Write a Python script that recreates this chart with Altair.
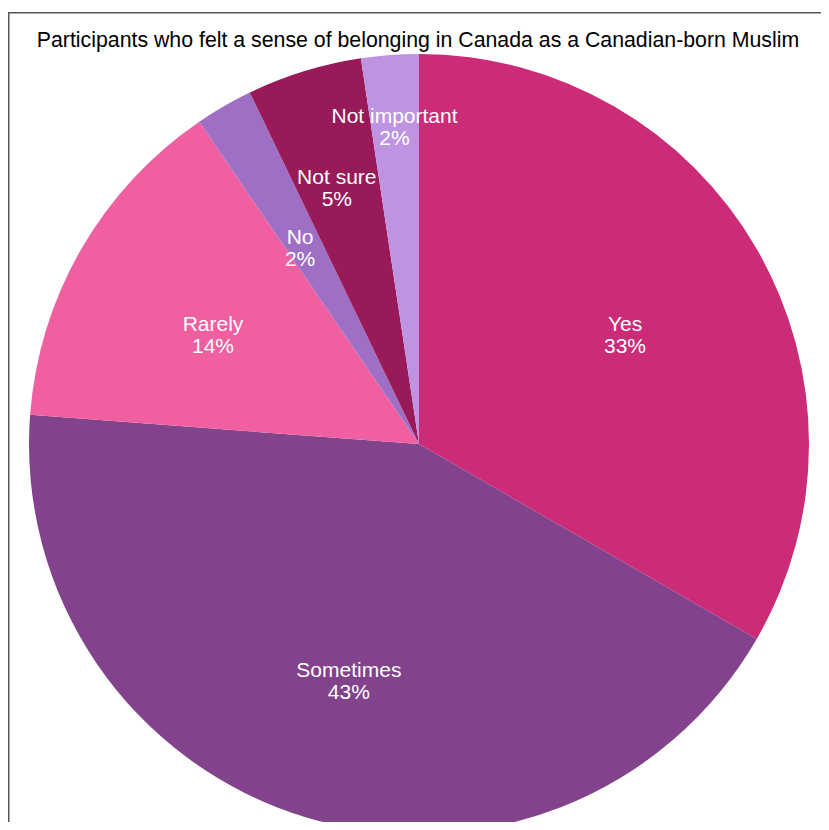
import altair as alt
import pandas as pd

TITLE = "Participants who felt a sense of belonging in Canada as a Canadian-born Muslim"
categories = ["Yes", "Sometimes", "Rarely", "No", "Not sure", "Not important"]
counts = [14, 18, 6, 1, 2, 1]
pct_labels = ["33%", "43%", "14%", "2%", "5%", "2%"]
colors = ["#CC2B78", "#82438C", "#F060A0", "#9F6FC6", "#981A58", "#BE94E2"]

df = pd.DataFrame({
    "category": categories,
    "count": counts,
    "pct": pct_labels,
    "order": list(range(len(categories))),
})
df["label"] = df["category"] + "\n" + df["pct"]

W, H = 813, 810
CX, CY, R = 411, 432, 390

pie = alt.Chart(df).mark_arc(outerRadius=R).encode(
    theta=alt.Theta("count:Q", stack=True),
    order=alt.Order("order:Q"),
    x=alt.value(CX),
    y=alt.value(CY),
    color=alt.Color("category:N", scale=alt.Scale(domain=categories, range=colors), legend=None),
)

text_style = dict(font="Liberation Sans", fontSize=21, color="white", lineBreak="\n",
                  baseline="middle", align="center", lineHeight=22)


def label_layer(cats, rfrac):
    return alt.Chart(df).transform_window(
        cum="sum(count)", sort=[alt.SortField("order")]
    ).transform_calculate(
        mid="datum.cum - datum.count / 2"
    ).transform_filter(
        alt.FieldOneOfPredicate(field="category", oneOf=cats)
    ).mark_text(radius=rfrac * R, **text_style).encode(
        theta=alt.Theta("mid:Q", stack=None),
        x=alt.value(CX),
        y=alt.value(CY),
        text="label:N",
    )


labels_main = label_layer(["Yes", "Sometimes", "Rarely", "No"], 0.61)
labels_sure = label_layer(["Not sure"], 0.715)
labels_imp = label_layer(["Not important"], 0.84)

one = pd.DataFrame({"title": [TITLE]})

title_text = alt.Chart(one).mark_text(
    font="Liberation Sans", fontSize=21.3, color="black", align="center", baseline="alphabetic"
).encode(x=alt.value(410), y=alt.value(35), text="title:N")

frame_left = alt.Chart(one).mark_rule(color="#555555", strokeWidth=1.5).encode(
    x=alt.value(0.75), y=alt.value(0), y2=alt.value(H)
)
frame_top = alt.Chart(one).mark_rule(color="#555555", strokeWidth=1.5).encode(
    x=alt.value(0), x2=alt.value(W), y=alt.value(0.75)
)

chart = alt.layer(pie, labels_main, labels_sure, labels_imp, title_text, frame_left, frame_top).properties(
    width=W,
    height=H,
    autosize=alt.AutoSizeParams(type="none"),
    padding={"top": 4, "left": 0, "right": 0, "bottom": 0},
).configure_view(strokeWidth=0).configure(background="white")

chart.save("out.html", embed_options={"renderer": "svg", "actions": False})
